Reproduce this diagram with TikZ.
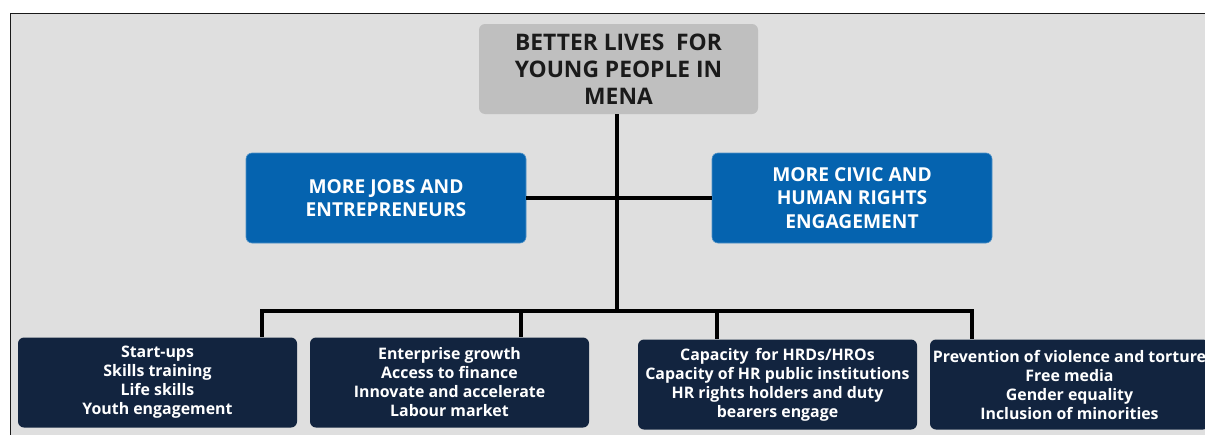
\documentclass[tikz,border=0pt]{standalone}
\usepackage{fontspec}
\setmainfont{Open Sans}
\definecolor{bggrey}{HTML}{DFDFDF}
\definecolor{topgrey}{HTML}{BFBFBF}
\definecolor{midblue}{HTML}{0563AF}
\definecolor{navy}{HTML}{12243F}
\definecolor{txtblack}{HTML}{1A1A1A}
\begin{document}
\begin{tikzpicture}[x=1pt,y=-1pt,
  box/.style={rounded corners=6pt, align=center, font=\bfseries, inner sep=0pt},
  topbox/.style={box, fill=topgrey, text=txtblack, minimum width=279pt, minimum height=90pt, font=\fontsize{22.8}{27}\selectfont\bfseries},
  midbox/.style={box, fill=midblue, draw=midblue!70!white, line width=0.6pt, text=white, minimum width=280pt, minimum height=90pt, font=\fontsize{19.2}{23.5}\selectfont\bfseries},
  lowbox/.style={box, fill=navy, text=white, minimum width=279pt, minimum height=90pt, font=\fontsize{15.9}{19}\selectfont\bfseries},
  conn/.style={line width=3.6pt, black}]
\useasboundingbox (0,0) rectangle (1205,434);
\fill[white] (0,0) rectangle (1205,434);
\fill[bggrey] (10.5,13.5) rectangle (1206,435);
\draw[line width=1.6pt, black!90] (10.5,436) -- (10.5,13.5) -- (1207,13.5);

\node[topbox] (T) at (618.5,69) {BETTER LIVES\ \ FOR\\YOUNG PEOPLE IN\\MENA};
\node[midbox] (L) at (386,198) {MORE JOBS AND\\ENTREPRENEURS};
\node[midbox] (R) at (852,198) {MORE CIVIC AND\\HUMAN RIGHTS\\ENGAGEMENT};

\node[lowbox] (B1) at (157.5,382.5) {Start-ups\\Skills training\\Life skills\\Youth engagement};
\node[lowbox] (B2) at (449.5,382.5) {Enterprise growth\\Access to finance\\Innovate and accelerate\\Labour market};
\node[lowbox] (B3) at (777.5,384.5) {Capacity\ \,for HRDs/HROs\\Capacity of HR public institutions\\HR rights holders and duty\\bearers engage};
\node[lowbox] (B4) at (1069.5,384.5) {Prevention of violence and torture\\Free media\\Gender equality\\Inclusion of minorities};

\coordinate (bus) at (617,311);
\coordinate (d1) at (262,311);
\coordinate (d2) at (521,311);
\coordinate (d3) at (717,311);
\coordinate (d4) at (972,311);

\draw[conn] (T.south -| bus) -- (bus);
\draw[conn] (L.east) -- (R.west);
\draw[conn, line cap=rect] (d1) -- (d4);
\draw[conn] (d1) -- (d1 |- B1.north);
\draw[conn] (d2) -- (d2 |- B2.north);
\draw[conn] (d3) -- (d3 |- B3.north);
\draw[conn] (d4) -- (d4 |- B4.north);
\end{tikzpicture}
\end{document}
